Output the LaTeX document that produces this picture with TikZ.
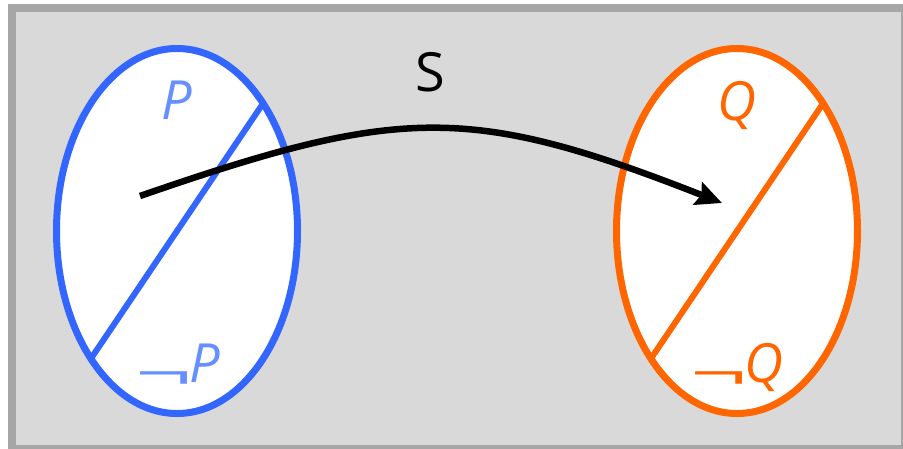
\documentclass[tikz,border=0pt]{standalone}
\usepackage{graphicx}
\usepackage{fontspec}
\setmainfont{Open Sans}
\usetikzlibrary{shapes.geometric,arrows.meta}
\definecolor{bgfill}{HTML}{D9D9D9}
\definecolor{bgline}{HTML}{A6A6A6}
\definecolor{pblue}{HTML}{3366FF}
\definecolor{plabel}{HTML}{6690FF}
\definecolor{qorange}{HTML}{FF6600}
\newcommand\wideneg{\raisebox{-0.16em}{\scalebox{1.85}[0.9]{\upshape ¬}}\kern-0.05em}
\tikzset{
  setshape/.style={ellipse, draw, fill=white, line width=7pt, outer sep=0pt,
    minimum width=241pt, minimum height=365pt, inner sep=0pt},
  divider/.style={line width=6pt},
  lbl/.style={inner sep=0pt, font=\fontsize{54}{60}\selectfont\itshape},
  maplbl/.style={inner sep=0pt, font=\fontsize{54}{60}\selectfont},
  maparrow/.style={line width=6.5pt, -{Stealth[length=26pt,width=24pt,inset=4pt]}}
}
\begin{document}
\begin{tikzpicture}[x=1pt,y=-1pt]
\useasboundingbox (0,0) rectangle (903,448);
\clip (0,0) rectangle (903,448);
\draw[bgline, fill=bgfill, line width=8pt] (12,8) rectangle (905,449);
\node[setshape, draw=pblue] (L) at (177,231) {};
\node[setshape, draw=qorange] (R) at (737,231) {};
\draw[divider, pblue] (L.56.4) -- (L.236.4);
\draw[divider, qorange] (R.56.4) -- (R.236.4);
\node[lbl, text=plabel] (p) at (177,100) {P};
\node[lbl, text=plabel, anchor=base] (np) at (178,382) {\wideneg P};
\node[lbl, text=qorange] (q) at (737,106) {Q};
\node[lbl, text=qorange, anchor=base] (nq) at (737,382) {\wideneg Q};
\node[maplbl] (s) at (430,72) {S};
\coordinate (a) at (140,196);
\coordinate (b) at (722,203);
\draw[maparrow] (a) .. controls (400,106) and (470,104) .. (b);
\end{tikzpicture}
\end{document}
